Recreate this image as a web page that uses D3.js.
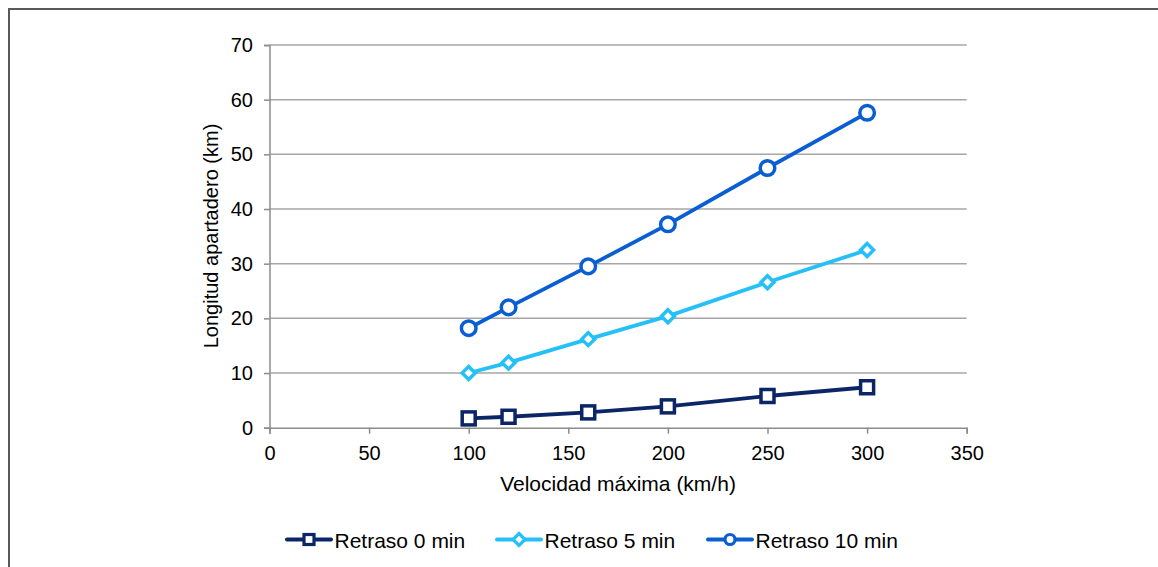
<!DOCTYPE html>
<html>
<head>
<meta charset="utf-8">
<script src="https://cdnjs.cloudflare.com/ajax/libs/d3/7.8.5/d3.min.js"></script>
<style>
  html, body { margin: 0; padding: 0; background: #fff; }
  svg { display: block; font-family: "Liberation Sans", Arial, sans-serif; }
</style>
</head>
<body>
<svg id="chart" width="1158" height="567"></svg>
<script>
// Maximum speed (km/h)
const speeds = [100, 120, 160, 200, 250, 300];
// Siding length (km) for each delay
const delay0 = [1.7, 2.0, 2.8, 3.9, 5.8, 7.4];
const delay5 = [10.0, 11.9, 16.2, 20.4, 26.6, 32.5];
const delay10 = [18.2, 22.0, 29.5, 37.2, 47.5, 57.6];
const seriesNames = ["Retraso 0 min", "Retraso 5 min", "Retraso 10 min"];
const xTicks = [0, 50, 100, 150, 200, 250, 300, 350];
const yTicks = [0, 10, 20, 30, 40, 50, 60, 70];

const colors = ["#0b2566", "#25c0f7", "#0a5ed3"];
const markers = ["square", "diamond", "circle"];
const series = [delay0, delay5, delay10].map((vals, i) => ({
  name: seriesNames[i], color: colors[i], marker: markers[i],
  points: speeds.map((s, j) => ({ x: s, y: vals[j] }))
}));

const svg = d3.select("#chart");
const FONT = "'Liberation Sans', Arial, sans-serif";

// Outer frame
svg.append("rect")
  .attr("x", 9).attr("y", 9).attr("width", 1170).attr("height", 600)
  .attr("fill", "none").attr("stroke", "#595959").attr("stroke-width", 2);

const x = d3.scaleLinear().domain([0, 350]).range([269.5, 966.7]);
const y = d3.scaleLinear().domain([0, 70]).range([427.7, 45]);

// Horizontal gridlines
svg.append("g").selectAll("line")
  .data(yTicks.filter(t => t > 0))
  .join("line")
  .attr("x1", x(0)).attr("x2", x(350))
  .attr("y1", d => y(d)).attr("y2", d => y(d))
  .attr("stroke", "#a6a6a6").attr("stroke-width", 1.5);

// Axes
const yAxis = svg.append("g")
  .attr("transform", `translate(${x(0)},0)`)
  .call(d3.axisLeft(y).tickValues(yTicks).tickSize(5.5).tickPadding(11).tickFormat(d3.format("d")));
const xAxis = svg.append("g")
  .attr("transform", `translate(0,${y(0)})`)
  .call(d3.axisBottom(x).tickValues(xTicks).tickSize(6).tickPadding(12).tickFormat(d3.format("d")));
[xAxis, yAxis].forEach(a => {
  a.select(".domain").attr("stroke", "#8c8c8c").attr("stroke-width", 1.5);
  a.selectAll(".tick line").attr("stroke", "#8c8c8c").attr("stroke-width", 1.5);
  a.selectAll(".tick text").attr("fill", "#000").style("font-size", "20px")
    .style("font-family", FONT);
});

// Axis titles
svg.append("text")
  .attr("x", 618).attr("y", 491)
  .attr("text-anchor", "middle")
  .style("font-size", "21px").attr("fill", "#000")
  .text("Velocidad máxima (km/h)");
svg.append("text")
  .attr("transform", `translate(218,236) rotate(-90)`)
  .attr("text-anchor", "middle")
  .style("font-size", "20px").attr("fill", "#000")
  .text("Longitud apartadero (km)");

function drawMarker(sel, type, color, size, sw) {
  if (type === "square") {
    sel.append("rect")
      .attr("x", -size).attr("y", -size).attr("width", size * 2).attr("height", size * 2)
      .attr("fill", "#fff").attr("stroke", color).attr("stroke-width", sw);
  } else if (type === "diamond") {
    const s = size;
    sel.append("path")
      .attr("d", `M0,${-s}L${s},0L0,${s}L${-s},0Z`)
      .attr("fill", "#fff").attr("stroke", color).attr("stroke-width", sw);
  } else {
    sel.append("circle").attr("r", size)
      .attr("fill", "#fff").attr("stroke", color).attr("stroke-width", sw);
  }
}
const markerSize = { square: 6.5, diamond: 6.5, circle: 7.3 };

const line = d3.line().x(d => x(d.x)).y(d => y(d.y));
series.forEach(s => {
  svg.append("path")
    .datum(s.points)
    .attr("d", line)
    .attr("fill", "none").attr("stroke", s.color).attr("stroke-width", 3.8)
    .attr("stroke-linejoin", "round");
  svg.append("g").selectAll("g")
    .data(s.points)
    .join("g")
    .attr("transform", d => `translate(${x(d.x)},${y(d.y)})`)
    .each(function () { drawMarker(d3.select(this), s.marker, s.color, markerSize[s.marker], 3.5); });
});

// Legend
const legendX = [287, 497, 708];
const legendY = 539.5;
series.forEach((s, i) => {
  const g = svg.append("g").attr("transform", `translate(${legendX[i]},${legendY})`);
  g.append("line").attr("x1", 0).attr("x2", 44).attr("y1", 0).attr("y2", 0)
    .attr("stroke", s.color).attr("stroke-width", 4).attr("stroke-linecap", "round");
  const m = g.append("g").attr("transform", "translate(22,0)");
  drawMarker(m, s.marker, s.color, s.marker === "diamond" ? 6 : 5, 3.2);
  g.append("text").attr("x", 47.5).attr("y", 8)
    .style("font-size", "21px").attr("fill", "#000")
    .text(s.name);
});
</script>
</body>
</html>
